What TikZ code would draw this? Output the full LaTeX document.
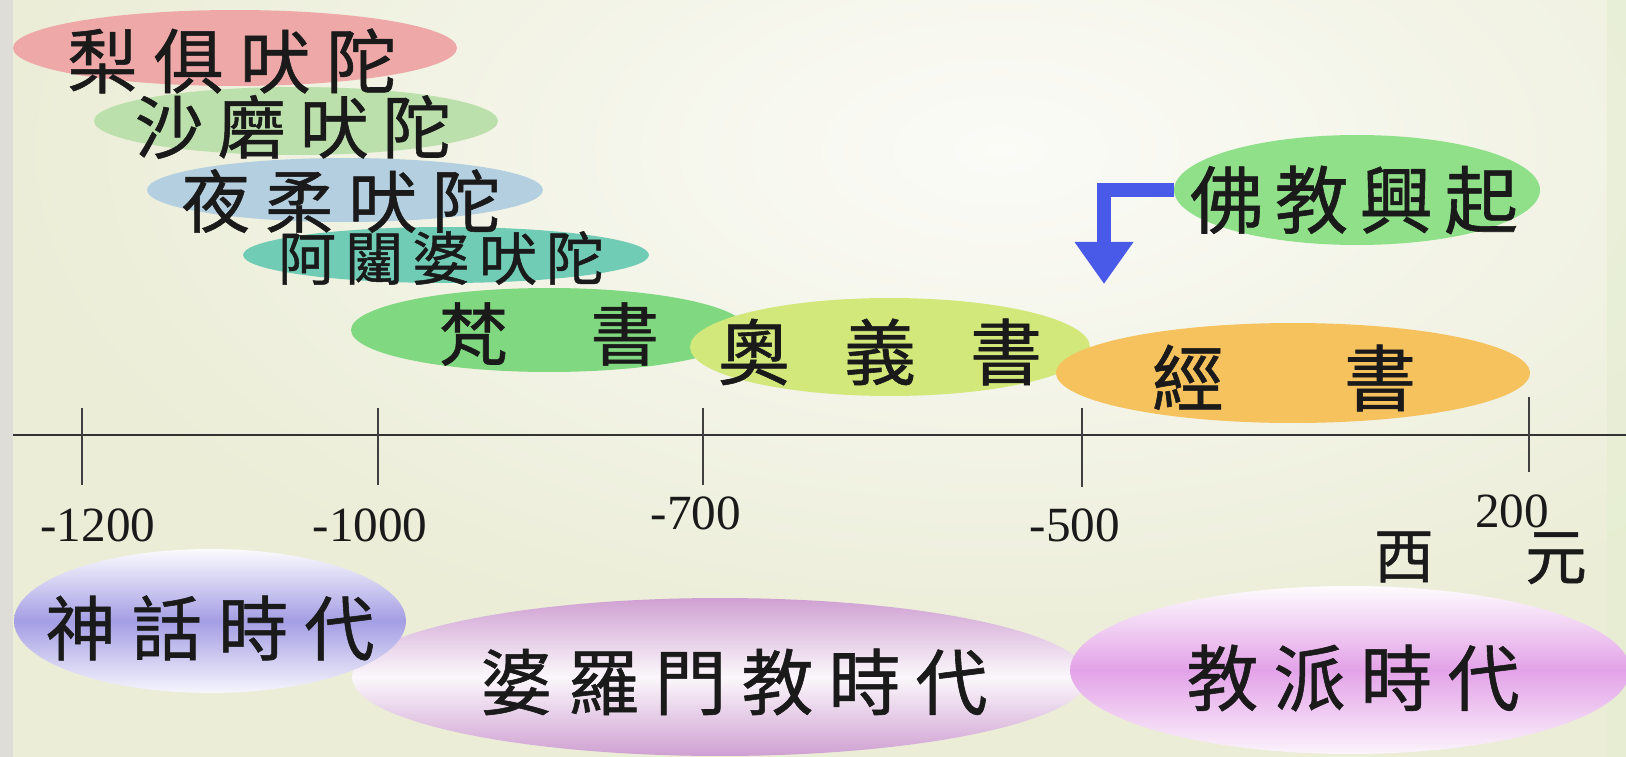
\documentclass[tikz,border=0pt]{standalone}
\usepackage{fontspec}
\setmainfont{Liberation Serif}
\newfontfamily\cjk[FakeBold=0.8]{Noto Sans CJK TC}
\usetikzlibrary{shapes.geometric,arrows.meta}
\definecolor{bgcream}{HTML}{EBEDD7}
\definecolor{bglight}{HTML}{FBFBF7}
\definecolor{stripgrey}{HTML}{DEDDD8}
\definecolor{cred}{HTML}{EEA8A8}
\definecolor{clgreen}{HTML}{BCE0AC}
\definecolor{clblue}{HTML}{B4D0E0}
\definecolor{cteal}{HTML}{70CCB4}
\definecolor{cgreen}{HTML}{80D880}
\definecolor{cyellow}{HTML}{D2E87A}
\definecolor{corange}{HTML}{F5C25E}
\definecolor{cbud}{HTML}{90E08A}
\definecolor{arrowblue}{HTML}{4A5AE8}
\definecolor{lav}{HTML}{A49EE4}
\definecolor{mauve}{HTML}{CFA0D2}
\definecolor{pinkv}{HTML}{E3A2E8}
\definecolor{ink}{HTML}{1A1A1A}
\begin{document}
\begin{tikzpicture}[x=0.02cm,y=-0.02cm,
  blob/.style={ellipse,inner sep=0pt,draw=none},
  lbl/.style={inner sep=0pt,text=ink,font=\cjk\fontsize{#1}{#1}\selectfont},
  num/.style={inner sep=0pt,text=ink,font=\fontsize{28}{28}\selectfont},
  axisline/.style={draw=black!80,line width=1.1pt},
  tickline/.style={draw=black!75,line width=0.8pt}]
\useasboundingbox (0,0) rectangle (1626,757);
% background
\fill[bgcream] (0,0) rectangle (1626,757);
\begin{scope}
  \clip (13,0) rectangle (1626,757);
  \shade[inner color=bglight, outer color=bgcream] (1000,150) ellipse [x radius=1000, y radius=520];
\end{scope}
\fill[stripgrey] (0,0) rectangle (13,757);
\fill[bgcream!80!green!20!bgcream,opacity=0.5] (1607,0) rectangle (1626,757);

% upper ellipses
\node[blob,fill=cred,minimum width=8.88cm,minimum height=1.52cm] (e1) at (235,48) {};
\node[blob,fill=clgreen,minimum width=8.08cm,minimum height=1.36cm] (e2) at (296,121) {};
\node[blob,fill=clblue,minimum width=7.92cm,minimum height=1.28cm] (e3) at (345,190) {};
\node[blob,fill=cteal,minimum width=8.12cm,minimum height=1.12cm] (e4) at (446,255) {};
\node[blob,fill=cgreen,minimum width=7.92cm,minimum height=1.68cm] (e5) at (549,330) {};
\node[blob,fill=cyellow,minimum width=8.0cm,minimum height=1.96cm] (e6) at (890,347) {};
\node[blob,fill=corange,minimum width=9.48cm,minimum height=2.0cm] (e7) at (1293,373) {};
\node[blob,fill=cbud,minimum width=7.32cm,minimum height=2.2cm] (e8) at (1357,190) {};

% arrow
\coordinate (arrowtip) at (1104,284);
\draw[arrowblue,line width=8pt,line join=miter,-{Triangle[width=32pt,length=24pt]}] (e8.west) -| (arrowtip);

% lower ellipses
\node[blob,top color=mauve,bottom color=mauve,middle color=white!92!mauve,minimum width=14.72cm,minimum height=3.16cm] (b2) at (720,677) {};
\node[blob,top color=white!96!lav,bottom color=white!90!lav,middle color=lav,minimum width=7.84cm,minimum height=2.88cm] (b1) at (210,621) {};
\node[blob,top color=white!96!pinkv,bottom color=white!88!pinkv,middle color=pinkv,minimum width=11.2cm,minimum height=3.36cm] (b3) at (1350,670) {};

% texts
\node[lbl=40] (t1) at (232,61) {梨\hspace{0.32cm}俱\hspace{0.32cm}吠\hspace{0.32cm}陀};
\node[lbl=39] (t2) at (293,127) {沙\hspace{0.28cm}磨\hspace{0.28cm}吠\hspace{0.28cm}陀};
\node[lbl=39] (t3) at (341,201) {夜\hspace{0.3cm}柔\hspace{0.3cm}吠\hspace{0.3cm}陀};
\node[lbl=33] (t4) at (441,258) {阿\hspace{0.18cm}闥\hspace{0.18cm}婆\hspace{0.18cm}吠\hspace{0.18cm}陀};
\node[lbl=39] (t5) at (549,334) {梵\hspace{1.66cm}書};
\node[lbl=41] (t6) at (880,352) {奧\hspace{1.08cm}義\hspace{1.08cm}書};
\node[lbl=41] (t7) at (1284,378) {經\hspace{2.4cm}書};
\node[lbl=42] (t8) at (1354,200) {佛\hspace{0.22cm}教\hspace{0.22cm}興\hspace{0.22cm}起};
\node[lbl=40] (t9) at (210,628) {神\hspace{0.32cm}話\hspace{0.32cm}時\hspace{0.32cm}代};
\node[lbl=41] (t10) at (734,682) {婆\hspace{0.3cm}羅\hspace{0.3cm}門\hspace{0.3cm}教\hspace{0.3cm}時\hspace{0.3cm}代};
\node[lbl=41] (t11) at (1353,678) {教\hspace{0.3cm}派\hspace{0.3cm}時\hspace{0.3cm}代};
\node[lbl=34] (xi) at (1404,557) {西};
\node[lbl=35,text height=0.78em,text depth=0.06em] (yuan) at (1556,573) {元};

% axis
\draw[axisline] (13,435) -- (1626,435);
\draw[tickline] (82,408) -- (82,485);
\draw[tickline] (378,408) -- (378,485);
\draw[tickline] (703,408) -- (703,485);
\draw[tickline] (1082,408) -- (1082,487);
\draw[tickline] (1529,397) -- (1529,472);
\node[num] (n1) at (98,525) {-1200};
\node[num] (n2) at (370,525) {-1000};
\node[num] (n3) at (696,513) {-700};
\node[num] (n4) at (1075,525) {-500};
\node[num] (n5) at (1512,511) {200};
\end{tikzpicture}
\end{document}
